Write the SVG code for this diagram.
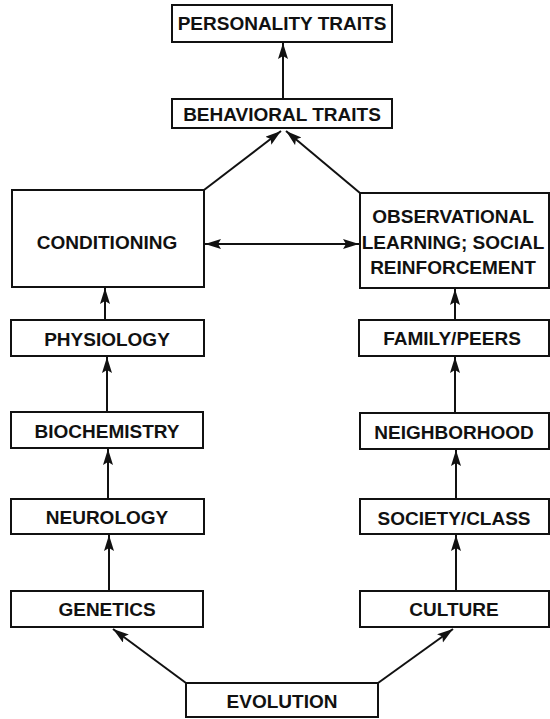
<svg xmlns="http://www.w3.org/2000/svg" width="550" height="719" viewBox="0 0 550 719">
<style>
.box{fill:#fff;stroke:#111;stroke-width:2}
.t{font-family:"Liberation Sans",Arial,sans-serif;font-weight:bold;font-size:19px;fill:#111;text-anchor:middle;dominant-baseline:central}
.c{stroke:#111;stroke-width:2;fill:none}
</style>
<defs>
<marker id="ah" markerUnits="userSpaceOnUse" markerWidth="18" markerHeight="12" refX="16" refY="5" orient="auto-start-reverse">
<path d="M0,0 L16,5 L0,10 L3,5 z" fill="#111"/>
</marker>
</defs>
<rect width="550" height="719" fill="#fff"/>
<g id="connectors">
<line class="c" x1="283" y1="99" x2="283" y2="43" marker-end="url(#ah)"/>
<line class="c" x1="204" y1="190" x2="281" y2="131" marker-end="url(#ah)"/>
<line class="c" x1="360" y1="193" x2="286" y2="131" marker-end="url(#ah)"/>
<line class="c" x1="205" y1="244" x2="359" y2="244" marker-start="url(#ah)" marker-end="url(#ah)"/>
<line class="c" x1="105" y1="320" x2="105" y2="288" marker-end="url(#ah)"/>
<line class="c" x1="107" y1="412" x2="107" y2="357" marker-end="url(#ah)"/>
<line class="c" x1="108" y1="499" x2="108" y2="449" marker-end="url(#ah)"/>
<line class="c" x1="109" y1="590" x2="109" y2="535" marker-end="url(#ah)"/>
<line class="c" x1="455" y1="320" x2="455" y2="289" marker-end="url(#ah)"/>
<line class="c" x1="455" y1="413" x2="455" y2="357" marker-end="url(#ah)"/>
<line class="c" x1="456" y1="499" x2="456" y2="450" marker-end="url(#ah)"/>
<line class="c" x1="456" y1="590" x2="456" y2="535" marker-end="url(#ah)"/>
<line class="c" x1="186" y1="683" x2="113" y2="629" marker-end="url(#ah)"/>
<line class="c" x1="378" y1="683" x2="453" y2="629" marker-end="url(#ah)"/>
</g>
<g id="personality"><rect class="box" x="172" y="5" width="220" height="37"/><text class="t" x="282" y="23.5">PERSONALITY TRAITS</text></g>
<g id="behavioral"><rect class="box" x="172" y="99" width="220" height="29"/><text class="t" x="282" y="114">BEHAVIORAL TRAITS</text></g>
<g id="conditioning"><rect class="box" x="12" y="190" width="192" height="97"/><text class="t" x="107" y="242">CONDITIONING</text></g>
<g id="observational"><rect class="box" x="360" y="193" width="189" height="95"/><text class="t" x="453" y="216">OBSERVATIONAL</text><text class="t" x="453" y="242">LEARNING; SOCIAL</text><text class="t" x="453" y="267">REINFORCEMENT</text></g>
<g id="physiology"><rect class="box" x="11" y="320" width="193" height="36"/><text class="t" x="107" y="339">PHYSIOLOGY</text></g>
<g id="family"><rect class="box" x="359" y="320" width="190" height="36"/><text class="t" x="452" y="338">FAMILY/PEERS</text></g>
<g id="biochemistry"><rect class="box" x="11" y="412" width="192" height="36"/><text class="t" x="107" y="431">BIOCHEMISTRY</text></g>
<g id="neighborhood"><rect class="box" x="360" y="413" width="189" height="36"/><text class="t" x="454" y="432">NEIGHBORHOOD</text></g>
<g id="neurology"><rect class="box" x="11" y="499" width="193" height="35"/><text class="t" x="107" y="517">NEUROLOGY</text></g>
<g id="society"><rect class="box" x="360" y="499" width="189" height="35"/><text class="t" x="454" y="518">SOCIETY/CLASS</text></g>
<g id="genetics"><rect class="box" x="11" y="591" width="192" height="36"/><text class="t" x="107" y="609">GENETICS</text></g>
<g id="culture"><rect class="box" x="360" y="591" width="189" height="36"/><text class="t" x="454" y="609">CULTURE</text></g>
<g id="evolution"><rect class="box" x="186" y="683" width="192" height="34"/><text class="t" x="282" y="701">EVOLUTION</text></g>
</svg>
